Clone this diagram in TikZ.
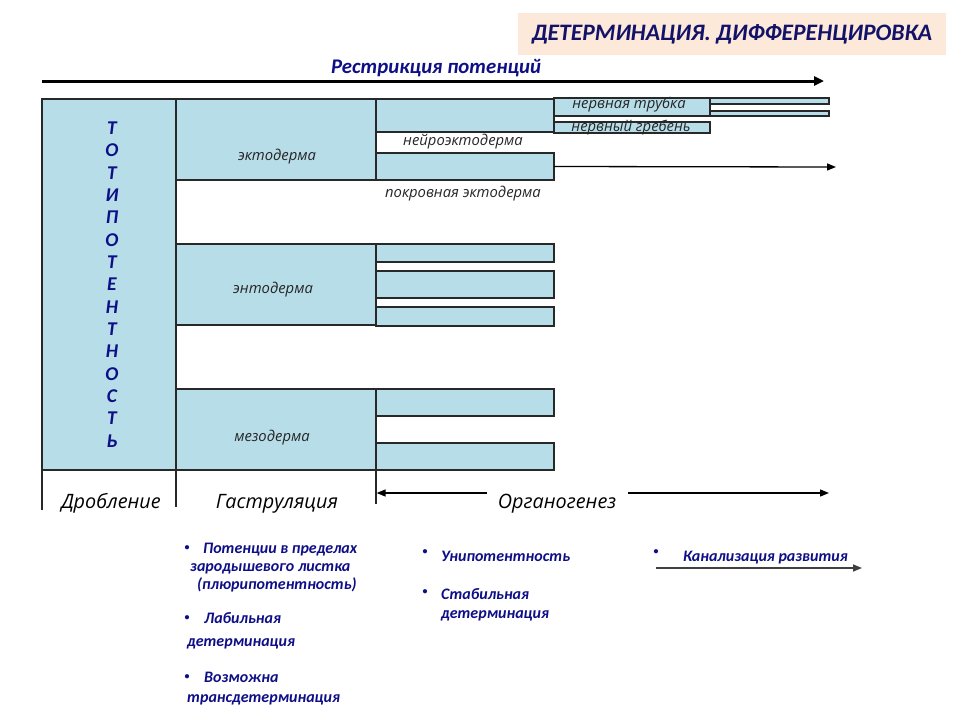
\documentclass[tikz,border=0pt]{standalone}
\usepackage{fontspec}
\setmainfont{Carlito}
\newfontfamily\lab{Open Sans}
\usetikzlibrary{arrows.meta}
\definecolor{boxblue}{RGB}{183,221,232}
\definecolor{navy}{RGB}{14,14,135}
\definecolor{titlenavy}{RGB}{18,18,105}
\definecolor{peach}{RGB}{253,233,217}
\definecolor{edge}{RGB}{40,40,40}
\begin{document}
\begin{tikzpicture}[x=1pt,y=-1pt,
  box/.style={draw=edge,line width=1.2pt,fill=boxblue,anchor=north west,inner sep=0pt,outer sep=0pt},
  lbl/.style={font=\lab\itshape\fontsize{14.8}{16}\selectfont,text=black!85,inner sep=0pt,text height=9pt,text depth=0pt},
  phase/.style={font=\lab\itshape\fontsize{19.8}{22}\selectfont,inner sep=0pt,anchor=base},
  nv/.style={font=\bfseries\itshape\fontsize{16}{18}\selectfont,text=navy,inner sep=0pt,anchor=base west},
  bul/.style={font=\bfseries\fontsize{10}{12}\selectfont,text=navy,inner sep=0pt},
  arr/.style={line width=1.3pt,-{Triangle[length=9pt,width=7pt]}},
  tick/.style={draw=edge,line width=1.2pt},
]
\useasboundingbox (0,0) rectangle (960,720);
% title
\node[fill=peach,anchor=north west,minimum width=428pt,minimum height=42pt,inner sep=0pt] (titlebg) at (518,13) {};
\node[font=\bfseries\itshape\fontsize{23.6}{26}\selectfont,text=titlenavy,inner sep=0pt] (title) at (732,34) {ДЕТЕРМИНАЦИЯ. ДИФФЕРЕНЦИРОВКА};
% restriction
\node[font=\bfseries\itshape\fontsize{20.8}{22}\selectfont,text=navy,inner sep=0pt] (restr) at (436,68) {Рестрикция потенций};
\coordinate (ra1) at (42,81);
\coordinate (ra2) at (824,81);
\draw[line width=3pt,-{Triangle[length=10pt,width=9pt]}] (ra1) -- (ra2);
% main boxes
\node[box,minimum width=134pt,minimum height=371pt] (toti) at (42,99) {};
\node[box,minimum width=200pt,minimum height=81pt] (ecto) at (176,99) {};
\node[box,minimum width=200pt,minimum height=81pt] (ento) at (176,244) {};
\node[box,minimum width=200pt,minimum height=81pt] (meso) at (176,389) {};
% ectoderm branches
\node[box,minimum width=178pt,minimum height=33pt] (neuro) at (376,99) {};
\node[box,minimum width=178pt,minimum height=27pt] (pokr) at (376,153) {};
\node[box,minimum width=156pt,minimum height=18pt] (tube) at (554,98) {};
\node[box,minimum width=156pt,minimum height=11pt] (crest) at (554,122) {};
\node[box,minimum width=119pt,minimum height=6pt] (bar1) at (710,98) {};
\node[box,minimum width=119pt,minimum height=5pt] (bar2) at (710,111) {};
\coordinate (pokrend) at (836,167);
\draw[arr] (pokr.east) -- (pokrend);
% entoderm branches
\node[box,minimum width=178pt,minimum height=18pt] (en1) at (376,244) {};
\node[box,minimum width=178pt,minimum height=27pt] (en2) at (376,271) {};
\node[box,minimum width=178pt,minimum height=19pt] (en3) at (376,307) {};
% mesoderm branches
\node[box,minimum width=178pt,minimum height=27pt] (me1) at (376,389) {};
\node[box,minimum width=178pt,minimum height=27pt] (me2) at (376,443) {};
% labels
\node[font=\bfseries\itshape\fontsize{19.5}{22.36}\selectfont,text=navy,align=center,inner sep=0pt] (totitxt) at (112,284.5)
 {Т\\О\\Т\\И\\П\\О\\Т\\Е\\Н\\Т\\Н\\О\\С\\Т\\Ь};
\node[lbl] (ectotxt) at (277,156) {эктодерма};
\node[lbl] (entotxt) at (273,289) {энтодерма};
\node[lbl] (mesotxt) at (272,437) {мезодерма};
\node[lbl] (neurotxt) at (463,141) {нейроэктодерма};
\node[lbl] (pokrtxt) at (463,193) {покровная эктодерма};
\node[lbl] (tubetxt) at (629,104) {нервная трубка};
\node[lbl] (cresttxt) at (631,127) {нервный гребень};
% phase ticks
\coordinate (t1) at (42,510);
\coordinate (t2) at (176,507);
\coordinate (t3) at (376,504);
\draw[tick] (toti.south west) -- (t1);
\draw[tick] (toti.south east) -- (t2);
\draw[tick] (meso.south east) -- (t3);
\node[phase] (drob) at (111,508) {Дробление};
\node[phase] (gastr) at (277,508) {Гаструляция};
\node[phase] (organ) at (557,508) {Органогенез};
\coordinate (oa1) at (487,493);
\coordinate (oa2) at (376.6,493);
\coordinate (oa3) at (628,493);
\coordinate (oa4) at (829,493);
\draw[arr] (oa1) -- (oa2);
\draw[arr] (oa3) -- (oa4);
% bullets column 1
\node[bul] (b1) at (187,548) {•};
\node[nv] (c1l1) at (203,553) {Потенции в пределах};
\node[nv] (c1l2) at (190,571) {зародышевого листка};
\node[nv] (c1l3) at (197,589) {(плюрипотентность)};
\node[bul] (b2) at (187,618) {•};
\node[nv] (c1l4) at (204,623) {Лабильная};
\node[nv] (c1l5) at (187,646) {детерминация};
\node[bul] (b3) at (187,677) {•};
\node[nv] (c1l6) at (204,682) {Возможна};
\node[nv] (c1l7) at (187,702) {трансдетерминация};
% column 2
\node[bul] (b4) at (425,552) {•};
\node[nv] (c2l1) at (441,561) {Унипотентность};
\node[bul] (b5) at (425,592) {•};
\node[nv] (c2l2) at (441,599) {Стабильная};
\node[nv] (c2l3) at (441,618) {детерминация};
% column 3
\node[bul] (b6) at (656,552) {•};
\node[nv] (c3l1) at (683,561) {Канализация развития};
\coordinate (ka1) at (656,568);
\coordinate (ka2) at (862,568);
\draw[arr,draw=black!75,fill=black!75,line width=1.5pt] (ka1) -- (ka2);
\end{tikzpicture}
\end{document}
